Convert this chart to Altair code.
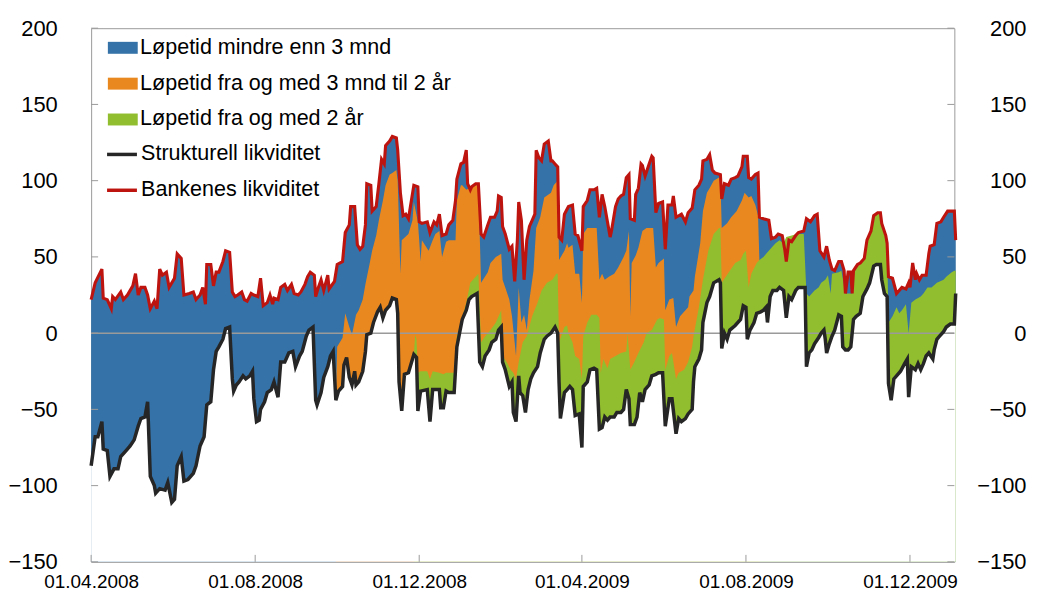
import altair as alt
import pandas as pd

START = pd.Timestamp("2008-04-01")

# (days since 01.04.2008, billion NOK)
strukturell = [
    (0,-87),(3,-68),(5,-68),(8,-58),(9,-76),(12,-77),(14,-94),(17,-89),(20,-89),(22,-81),
    (26,-77),(29,-74),(32,-70),(35,-61),(37,-56),(40,-55),(42,-45),(44,-94),(47,-100),(48,-105),
    (51,-102),(55,-103),(57,-98),(60,-111),(62,-109),(64,-87),(67,-81),(69,-97),(72,-96),(76,-92),
    (78,-87),(81,-74),(84,-68),(86,-47),(89,-45),(91,-24),(93,-12),(95,-9),(98,-4),(100,3),
    (103,4),(105,-30),(106,-38),(108,-34),(110,-32),(113,-28),(115,-30),(118,-28),(120,-25),(121,-43),
    (123,-58),(125,-57),(126,-50),(129,-45),(131,-39),(134,-37),(136,-32),(139,-42),(141,-19),(144,-19),
    (147,-13),(150,-12),(152,-22),(155,-15),(157,-12),(160,-2),(162,2),(165,4),(167,-44),(168,-47),
    (171,-39),(173,-29),(176,-22),(178,-15),(180,-12),(182,-44),(184,-38),(187,-35),(188,-21),(190,-16),
    (192,-29),(194,-34),(196,-25),(197,-34),(199,-32),(202,-25),(204,-12),(205,-1),(208,0),(210,7),
    (213,14),(215,17),(217,10),(219,15),(222,18),(224,23),(227,22),(228,13),(229,-32),(231,-51),
    (233,-27),(236,-26),(240,-14),(242,-16),(243,-51),(245,-38),(250,-37),(252,-58),(254,-37),(259,-37),
    (260,-49),(262,-49),(264,-38),(266,-39),(270,-39),(272,-9),(274,0),(276,9),(279,15),(281,22),
    (283,24),(287,26),(289,-19),(291,-22),(293,-15),(296,-11),(298,-6),(301,-4),(303,2),(305,4),
    (306,-19),(308,-24),(311,-35),(313,-32),(314,-52),(316,-58),(318,-28),(319,-39),(321,-41),(323,-52),
    (325,-37),(327,-30),(329,-26),(332,-22),(334,-13),(337,-4),(339,-2),(342,0),(345,4),(347,0),
    (348,-32),(349,-56),(352,-39),(354,-37),(356,-35),(358,-37),(360,-54),(363,-53),(365,-75),(366,-35),
    (369,-32),(371,-24),(374,-23),(376,-24),(378,-63),(380,-62),(382,-55),(384,-57),(386,-55),(389,-55),
    (391,-52),(394,-52),(396,-50),(398,-37),(400,-43),(401,-60),(404,-60),(406,-55),(408,-39),(410,-45),
    (412,-37),(415,-34),(417,-28),(420,-27),(422,-26),(425,-26),(427,-61),(430,-43),(432,-43),(435,-66),
    (437,-56),(439,-58),(442,-56),(444,-53),(447,-50),(448,-32),(449,-22),(452,-17),(454,-11),(455,7),
    (458,20),(460,24),(463,33),(467,35),(468,33),(469,-10),(471,0),(473,-4),(475,2),(479,5),
    (483,9),(485,18),(487,17),(488,-4),(490,2),(493,7),(495,13),(498,14),(500,15),(502,17),
    (503,7),(505,24),(507,28),(510,28),(512,30),(515,28),(517,10),(519,24),(521,22),(524,28),
    (526,30),(530,30),(531,30),(532,-22),(534,-13),(536,-11),(538,-7),(541,-3),(543,0),(545,2),
    (546,-4),(547,-13),(549,-7),(551,-2),(553,2),(556,12),(558,11),(559,-9),(561,-11),(563,-11),
    (565,-9),(567,9),(569,11),(572,13),(574,24),(577,29),(579,33),(582,44),(584,45),(587,45),
    (588,35),(590,26),(592,24),(593,-33),(595,-44),(597,-30),(599,-28),(602,-25),(605,-20),(607,-17),
    (608,-42),(610,-22),(613,-24),(615,-20),(617,-24),(619,-20),(621,-15),(623,-13),(626,-17),(627,-11),
    (629,-4),(631,-2),(634,1),(636,4),(639,6),(642,6),(643,26),
]

bankenes = [
    (0,22),(3,33),(8,42),(9,23),(12,22),(15,16),(16,24),(18,22),(22,27),(24,22),
    (27,25),(31,31),(33,39),(35,25),(37,30),(40,30),(42,25),(44,16),(47,21),(49,16),
    (51,42),(53,38),(56,40),(58,30),(62,36),(64,52),(67,49),(69,25),(73,26),(76,27),
    (78,22),(81,25),(83,30),(85,19),(86,45),(89,45),(91,31),(93,40),(95,40),(98,47),
    (100,54),(103,53),(105,27),(107,24),(109,25),(112,27),(114,22),(116,21),(119,26),(121,25),
    (124,24),(126,36),(128,18),(131,20),(133,25),(135,19),(136,23),(139,22),(141,30),(144,32),
    (146,28),(149,32),(151,26),(154,25),(156,27),(159,32),(161,37),(163,40),(166,38),(167,24),
    (169,30),(171,35),(173,28),(176,38),(177,29),(181,34),(183,45),(187,47),(189,66),(192,71),
    (193,83),(196,83),(198,58),(200,55),(202,57),(204,71),(205,98),(208,97),(209,80),(212,83),
    (214,98),(216,114),(218,111),(219,123),(222,126),(224,129),(227,128),(228,120),(230,92),(232,77),
    (234,78),(236,75),(240,97),(243,96),(244,73),(246,72),(250,73),(252,66),(255,73),(257,71),
    (259,78),(261,64),(264,65),(266,71),(269,74),(271,87),(272,101),(275,111),(277,112),(279,120),
    (280,98),(282,94),(283,96),(286,98),(288,98),(290,65),(292,63),(295,71),(297,76),(300,76),
    (302,80),(303,90),(305,89),(306,70),(308,65),(311,55),(313,57),(315,34),(317,61),(318,86),
    (320,74),(322,35),(324,61),(326,70),(328,74),(330,78),(331,120),(333,115),(335,113),(337,124),
    (340,126),(342,113),(343,113),(345,111),(347,109),(348,63),(350,61),(352,78),(355,83),(358,84),
    (360,65),(362,64),(365,54),(366,83),(369,87),(371,94),(374,94),(376,95),(378,76),(380,91),
    (382,83),(384,73),(386,63),(387,67),(390,83),(392,88),(394,90),(396,91),(398,102),(400,104),
    (401,75),(404,74),(405,91),(407,95),(409,111),(410,110),(412,103),(415,111),(417,116),(418,115),
    (420,79),(422,85),(425,86),(427,55),(429,84),(432,84),(433,90),(435,76),(437,77),(439,78),
    (442,73),(444,79),(447,82),(449,94),(452,97),(454,101),(455,113),(458,114),(460,117),(462,107),
    (464,105),(468,104),(469,88),(471,98),(474,97),(476,101),(479,102),(481,103),(484,109),(485,116),
    (488,116),(489,102),(491,101),(494,104),(496,105),(497,76),(500,75),(504,74),(506,62),(509,63),
    (511,65),(514,64),(516,54),(517,47),(519,61),(521,60),(524,64),(526,66),(530,67),(532,75),
    (535,73),(538,77),(540,78),(542,54),(545,50),(547,57),(549,48),(551,42),(553,41),(556,47),
    (558,47),(560,41),(561,26),(563,40),(565,40),(566,26),(567,41),(570,45),(572,46),(575,49),
    (577,61),(580,67),(582,77),(585,79),(587,79),(588,72),(591,64),(592,59),(593,37),(596,36),
    (599,26),(601,28),(603,30),(606,29),(608,33),(609,30),(611,46),(613,35),(614,39),(616,35),
    (618,38),(621,38),(623,52),(624,57),(627,58),(629,72),(632,73),(634,76),(637,80),(642,80),
    (643,61),
]

# upper edge of the 3 mnd - 2 år band (structural + >=2 år + 3 mnd-2 år)
niva_3mnd_2aar = [
    (182,-44),(183,-9),(187,-3),(189,13),(192,4),(194,-1),(197,12),(199,15),(202,22),(204,32),
    (207,45),(209,54),(212,64),(214,74),(217,87),(219,97),(222,104),(224,105),(227,107),(228,100),
    (229,70),(230,39),(231,61),(236,65),(239,74),(240,86),(243,73),(244,61),(245,47),(246,61),
    (251,54),(254,61),(256,65),(259,67),(261,50),(264,60),(266,61),(271,61),(272,87),(275,97),
    (276,97),(279,94),(281,95),(286,97),(288,97),(290,33),(295,40),(297,46),(301,50),(305,52),
    (306,35),(308,30),(311,22),(313,11),(316,-15),(318,30),(320,7),(322,12),(324,2),(326,22),
    (329,41),(331,69),(334,76),(337,89),(342,92),(344,97),(347,100),(348,48),(352,54),(354,59),
    (355,56),(358,58),(360,39),(363,39),(365,20),(366,65),(369,69),(374,69),(376,69),(378,35),
    (380,39),(382,35),(385,37),(389,39),(392,43),(396,50),(398,54),(400,67),(401,11),(402,46),
    (405,51),(407,56),(410,67),(413,69),(418,69),(420,43),(422,46),(426,49),(427,15),(430,22),
    (433,23),(435,4),(438,11),(442,15),(444,17),(445,24),(448,28),(449,37),(453,59),(455,80),
    (458,92),(460,95),(463,100),(467,102),(468,102),(469,69),(473,72),(476,76),(480,80),(484,87),
    (486,92),(489,89),(491,90),(494,84),(496,77),(497,48),
]

# upper edge of the >= 2 år band (structural + >=2 år)
niva_2aar = [
    (240,-14),(241,-1),(242,-4),(243,-26),(245,-25),(250,-25),(252,-30),(254,-25),(259,-26),(262,-27),
    (264,-26),(270,-26),(272,-2),(275,7),(279,20),(282,33),(286,37),(288,39),(290,-6),(293,-2),
    (297,2),(301,7),(305,15),(306,-15),(309,-19),(312,-24),(314,-26),(316,-30),(318,-19),(321,-6),
    (324,-2),(328,11),(332,20),(335,28),(339,33),(343,35),(346,39),(347,39),(348,-6),(352,4),
    (354,5),(355,0),(358,-6),(360,-15),(363,-17),(365,-30),(366,-2),(369,7),(372,12),(376,12),
    (378,10),(379,-26),(381,-17),(384,-23),(386,-17),(390,-15),(394,-13),(398,-12),(399,0),(401,-24),
    (404,-19),(407,-13),(411,-6),(413,0),(417,2),(421,9),(423,10),(426,9),(427,-24),(430,-15),
    (432,-13),(435,-30),(437,-26),(441,-24),(444,-19),(447,-9),(448,-2),(452,17),(455,35),(459,54),
    (463,65),(467,69),(468,69),(469,33),(472,37),(475,41),(479,46),(483,48),(485,52),(487,54),
    (489,30),(491,39),(495,46),(497,48),(500,50),(504,54),(506,56),(509,59),(512,61),(515,59),
    (517,63),(521,64),(525,65),(528,65),(530,65),(532,26),(534,24),(536,26),(538,28),(541,30),
    (543,33),(546,35),(548,38),(550,26),(551,39),(556,40),(558,41),(561,26),(563,26),(566,26),
    (567,41),(570,45),(572,46),(575,49),(577,61),(580,67),(582,77),(585,79),(587,79),(588,72),
    (591,64),(592,59),(593,7),(596,11),(599,17),(601,13),(603,15),(606,19),(608,0),(610,20),
    (613,22),(617,24),(619,26),(622,30),(625,30),(629,33),(634,35),(636,37),(640,40),(642,41),
    (643,41),
]

omrade_navn = ["Løpetid mindre enn 3 mnd", "Løpetid fra og med 3 mnd til 2 år", "Løpetid fra og med 2 år"]
omrade_farger = ["#3472A7", "#EA8820", "#91BE2E"]
linje_navn = ["Strukturell likviditet", "Bankenes likviditet"]
linje_farger = ["#262626", "#BE140F"]

y_verdier = [-150, -100, -50, 0, 50, 100, 150, 200]
x_ticks = [(2008, 4), (2008, 8), (2008, 12), (2009, 4), (2009, 8), (2009, 12)]


def frame(pairs, serie):
    df = pd.DataFrame(pairs, columns=["dag", "verdi"])
    df["dato"] = START + pd.to_timedelta(df["dag"], unit="D")
    df["serie"] = serie
    return df


df_blue = frame(bankenes, omrade_navn[0])
df_orange = frame(niva_3mnd_2aar, omrade_navn[1])
df_green = frame(niva_2aar, omrade_navn[2])
df_struct = frame(strukturell, linje_navn[0])
df_bank = frame(bankenes, linje_navn[1])
df_mask = frame(strukturell, "maske")
df_zero = pd.DataFrame({"verdi": [0]})
df_yt = pd.DataFrame({"verdi": y_verdier})
df_xt = pd.DataFrame({"dato": [pd.Timestamp(year=y, month=m, day=1) for y, m in x_ticks]})

W, H = 867, 536
FONT = "Liberation Sans"
GRAY = "#9A9A9A"

xscale = alt.Scale(domain=[alt.DateTime(year=2008, month=4, date=1), alt.DateTime(year=2010, month=1, date=3)])
yscale = alt.Scale(domain=[-150, 200], nice=False, zero=False)

x_axis = alt.Axis(
    values=[alt.DateTime(year=y, month=m, date=1) for y, m in x_ticks],
    format="%d.%m.%Y", title=None, grid=False, ticks=False, domain=False,
    labelFont=FONT, labelFontSize=19, labelColor="black", labelPadding=11,
    labelFlush=False, labelOverlap=False, labelAngle=0,
)
left_axis = alt.Axis(
    orient="left", values=y_verdier, title=None, grid=False, ticks=False, domain=False,
    labelFont=FONT, labelFontSize=22, labelColor="black", labelPadding=34,
    labelFlush=False, labelOverlap=False,
)
right_axis = alt.Axis(
    orient="right", values=y_verdier, title=None, grid=False, ticks=False, domain=False,
    labelFont=FONT, labelFontSize=22, labelColor="black", labelPadding=72, labelAlign="right",
    labelFlush=False, labelOverlap=False,
)

fill_scale = alt.Scale(domain=omrade_navn, range=omrade_farger)
stroke_scale = alt.Scale(domain=linje_navn, range=linje_farger)

fill_legend = alt.Legend(
    title=None, orient="none", legendX=16.8, legendY=4.7,
    symbolType="M-1,-0.4L1,-0.4L1,0.4L-1,0.4Z", symbolSize=900, symbolStrokeWidth=0,
    symbolOpacity=1, labelFont=FONT, labelFontSize=21.6, labelColor="black",
    labelLimit=600, labelOffset=2.4, rowPadding=10, padding=0,
)
stroke_legend = alt.Legend(
    title=None, orient="none", legendX=14, legendY=109.8,
    symbolType="stroke", symbolSize=900, symbolStrokeWidth=3.5,
    labelFont=FONT, labelFontSize=21.6, labelColor="black",
    labelLimit=600, labelOffset=2.2, rowPadding=8, padding=0,
)


def area(df, axes=False):
    return alt.Chart(df).mark_area(opacity=1, interpolate="linear").encode(
        x=alt.X("dato:T", scale=xscale, axis=x_axis),
        y=alt.Y("verdi:Q", scale=yscale, axis=left_axis if axes else None),
        y2=alt.datum(-150),
        fill=alt.Fill("serie:N", scale=fill_scale, legend=fill_legend),
    )


blue = area(df_blue, axes=True)
orange = area(df_orange)
green = area(df_green)

mask = alt.Chart(df_mask).mark_area(color="white", opacity=1, interpolate="linear").encode(
    x=alt.X("dato:T", scale=xscale, axis=x_axis),
    y=alt.Y("verdi:Q", scale=yscale, axis=right_axis),
    y2=alt.datum(-150),
)

zero = alt.Chart(df_zero).mark_rule(color=GRAY, strokeWidth=1.5).encode(
    y=alt.Y("verdi:Q", scale=yscale, axis=None)
)

ytick_l = alt.Chart(df_yt).mark_rule(color=GRAY, strokeWidth=1).encode(
    y=alt.Y("verdi:Q", scale=yscale, axis=None), x=alt.value(0), x2=alt.value(7)
)
ytick_r = alt.Chart(df_yt).mark_rule(color=GRAY, strokeWidth=1).encode(
    y=alt.Y("verdi:Q", scale=yscale, axis=None), x=alt.value(W - 7), x2=alt.value(W)
)
xtick = alt.Chart(df_xt).mark_rule(color=GRAY, strokeWidth=1).encode(
    x=alt.X("dato:T", scale=xscale, axis=x_axis), y=alt.value(H), y2=alt.value(H - 7)
)


def line(df, width):
    return alt.Chart(df).mark_line(strokeWidth=width, interpolate="linear").encode(
        x=alt.X("dato:T", scale=xscale, axis=x_axis),
        y=alt.Y("verdi:Q", scale=yscale, axis=None),
        stroke=alt.Stroke("serie:N", scale=stroke_scale, legend=stroke_legend),
    )


chart = alt.layer(
    blue, orange, green, mask, zero, ytick_l, ytick_r, xtick,
    line(df_struct, 3.5), line(df_bank, 3.1)
).resolve_axis(y="independent").properties(
    width=W, height=H,
    autosize=alt.AutoSizeParams(type="none"),
    padding={"left": 83.5, "top": 19, "right": 80, "bottom": 30},
).configure_view(stroke=GRAY, strokeWidth=1)

chart.save("out.html", embed_options={"renderer": "svg", "actions": False})
